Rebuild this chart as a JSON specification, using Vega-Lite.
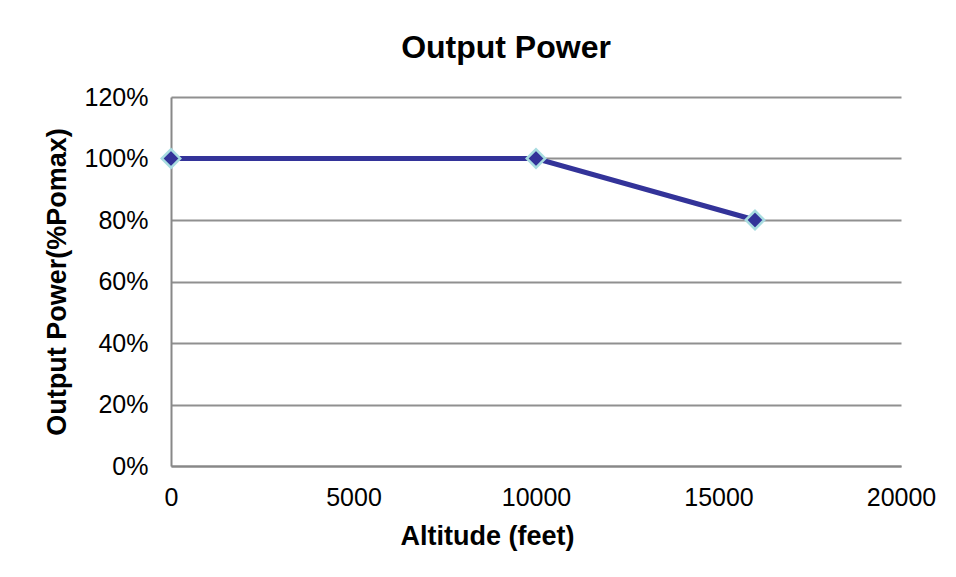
{
  "$schema": "https://vega.github.io/schema/vega-lite/v6.json",
  "width": 730,
  "height": 369,
  "autosize": {"type": "none"},
  "padding": {"left": 171, "top": 97, "right": 55, "bottom": 111},
  "background": "white",
  "title": {
    "text": "Output Power",
    "font": "Liberation Sans",
    "fontSize": 32,
    "fontWeight": "bold",
    "color": "black",
    "anchor": "middle",
    "dx": -30,
    "offset": 20
  },
  "data": {
    "values": [
      {"altitude": 0, "power": 1.0},
      {"altitude": 10000, "power": 1.0},
      {"altitude": 16000, "power": 0.8}
    ]
  },
  "config": {
    "view": {"stroke": null},
    "font": "Liberation Sans",
    "axis": {
      "labelFont": "Liberation Sans",
      "titleFont": "Liberation Sans",
      "labelColor": "black",
      "titleColor": "black",
      "labelFontSize": 25,
      "titleFontSize": 27,
      "titleFontWeight": "bold",
      "domainColor": "#888888",
      "domainWidth": 2,
      "gridColor": "#909090",
      "gridWidth": 2,
      "ticks": false,
      "labelFlush": false
    }
  },
  "encoding": {
    "x": {
      "field": "altitude",
      "type": "quantitative",
      "scale": {"domain": [0, 20000], "nice": false},
      "axis": {
        "title": "Altitude (feet)",
        "values": [0, 5000, 10000, 15000, 20000],
        "format": "d",
        "grid": false,
        "labelPadding": 19,
        "titlePadding": 13,
        "titleX": 316
      }
    },
    "y": {
      "field": "power",
      "type": "quantitative",
      "scale": {"domain": [0, 1.2], "nice": false},
      "axis": {
        "title": "Output Power(%Pomax)",
        "values": [0, 0.2, 0.4, 0.6, 0.8, 1.0, 1.2],
        "format": ".0%",
        "labelPadding": 23,
        "titlePadding": 13
      }
    }
  },
  "layer": [
    {
      "mark": {"type": "line", "color": "#333399", "strokeWidth": 5}
    },
    {
      "mark": {
        "type": "point",
        "shape": "diamond",
        "filled": true,
        "fill": "#333399",
        "stroke": "#A8DCE0",
        "strokeWidth": 2.5,
        "size": 340,
        "opacity": 1
      }
    }
  ]
}
